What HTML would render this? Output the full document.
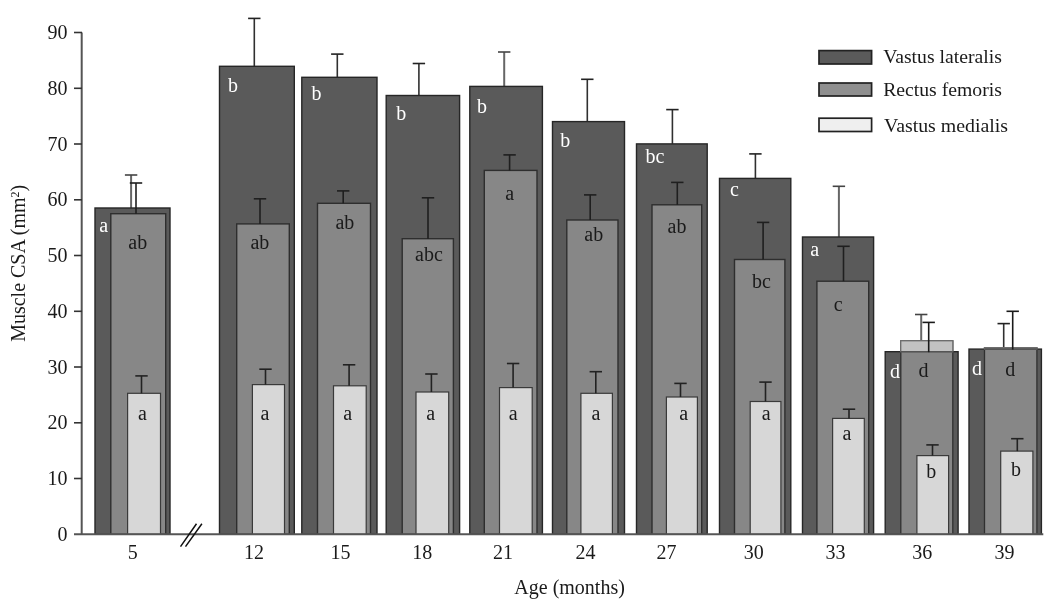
<!DOCTYPE html>
<html lang="en"><head><meta charset="utf-8"><title>Muscle CSA by age</title>
<style>
html,body{margin:0;padding:0;background:#fff;}
body{width:1050px;height:605px;overflow:hidden;}
svg{display:block;}
text{font-family:"Liberation Serif",serif;font-size:20px;fill:#1a1a1a;}
.w{fill:#fff;}
.m{text-anchor:middle;}
.e{text-anchor:end;}
</style></head><body>
<svg width="1050" height="605" viewBox="0 0 1050 605">
<rect width="1050" height="605" fill="#fff"/>

<g><!-- age 5 -->
<path d="M131.1 175.0V208.0" stroke="#666" stroke-width="2.0" fill="none"/><path d="M124.9 175.0H137.3" stroke="#444" stroke-width="1.6" fill="none"/>
<rect x="95.0" y="208.0" width="75.0" height="326.3" fill="#5a5a5a" stroke="#262626" stroke-width="1.4" />
<rect x="110.8" y="213.7" width="54.9" height="320.6" fill="#878787" stroke="#2e2e2e" stroke-width="1.4" />
<path d="M136.0 183.0V213.7" stroke="#1f1f1f" stroke-width="1.6" fill="none"/><path d="M129.8 183.0H142.2" stroke="#1f1f1f" stroke-width="1.6" fill="none"/>
<rect x="127.6" y="393.3" width="32.9" height="141.0" fill="#d7d7d7" stroke="#3a3a3a" stroke-width="1.2" />
<path d="M141.5 375.9V393.3" stroke="#222" stroke-width="1.6" fill="none"/><path d="M135.3 375.9H147.7" stroke="#222" stroke-width="1.6" fill="none"/>
<text class="w m" x="103.7" y="232.1">a</text>
<text class="m" x="137.7" y="248.7">ab</text>
<text class="m" x="142.5" y="419.7">a</text>
</g>
<g><!-- age 12 -->
<path d="M254.3 18.4V66.3" stroke="#303030" stroke-width="1.6" fill="none"/><path d="M248.1 18.4H260.5" stroke="#222" stroke-width="1.6" fill="none"/>
<rect x="219.5" y="66.3" width="74.8" height="468.0" fill="#5a5a5a" stroke="#262626" stroke-width="1.4" />
<rect x="236.7" y="223.9" width="52.6" height="310.4" fill="#878787" stroke="#2e2e2e" stroke-width="1.4" />
<path d="M260.0 198.8V223.9" stroke="#1f1f1f" stroke-width="1.6" fill="none"/><path d="M253.8 198.8H266.2" stroke="#1f1f1f" stroke-width="1.6" fill="none"/>
<rect x="252.4" y="384.6" width="32.1" height="149.7" fill="#d7d7d7" stroke="#3a3a3a" stroke-width="1.2" />
<path d="M265.5 369.2V384.6" stroke="#222" stroke-width="1.6" fill="none"/><path d="M259.3 369.2H271.7" stroke="#222" stroke-width="1.6" fill="none"/>
<text class="w m" x="233" y="91.6">b</text>
<text class="m" x="259.9" y="249.0">ab</text>
<text class="m" x="265" y="419.7">a</text>
</g>
<g><!-- age 15 -->
<path d="M337.3 54.1V77.3" stroke="#303030" stroke-width="1.6" fill="none"/><path d="M331.1 54.1H343.5" stroke="#222" stroke-width="1.6" fill="none"/>
<rect x="301.8" y="77.3" width="75.2" height="457.0" fill="#5a5a5a" stroke="#262626" stroke-width="1.4" />
<rect x="317.5" y="203.3" width="53.0" height="331.0" fill="#878787" stroke="#2e2e2e" stroke-width="1.4" />
<path d="M343.2 190.9V203.3" stroke="#1f1f1f" stroke-width="1.6" fill="none"/><path d="M337.0 190.9H349.4" stroke="#1f1f1f" stroke-width="1.6" fill="none"/>
<rect x="333.5" y="385.8" width="32.7" height="148.5" fill="#d7d7d7" stroke="#3a3a3a" stroke-width="1.2" />
<path d="M349.1 364.8V385.8" stroke="#222" stroke-width="1.6" fill="none"/><path d="M342.9 364.8H355.3" stroke="#222" stroke-width="1.6" fill="none"/>
<text class="w m" x="316.5" y="99.5">b</text>
<text class="m" x="344.9" y="228.5">ab</text>
<text class="m" x="347.8" y="419.7">a</text>
</g>
<g><!-- age 18 -->
<path d="M418.9 63.5V95.5" stroke="#303030" stroke-width="1.6" fill="none"/><path d="M412.7 63.5H425.1" stroke="#222" stroke-width="1.6" fill="none"/>
<rect x="386.2" y="95.5" width="73.4" height="438.8" fill="#5a5a5a" stroke="#262626" stroke-width="1.4" />
<rect x="402.2" y="238.7" width="51.2" height="295.6" fill="#878787" stroke="#2e2e2e" stroke-width="1.4" />
<path d="M428.0 197.8V238.7" stroke="#1f1f1f" stroke-width="1.6" fill="none"/><path d="M421.8 197.8H434.2" stroke="#1f1f1f" stroke-width="1.6" fill="none"/>
<rect x="416.0" y="392.0" width="32.7" height="142.3" fill="#d7d7d7" stroke="#3a3a3a" stroke-width="1.2" />
<path d="M431.4 374.0V392.0" stroke="#222" stroke-width="1.6" fill="none"/><path d="M425.2 374.0H437.6" stroke="#222" stroke-width="1.6" fill="none"/>
<text class="w m" x="401.2" y="119.9">b</text>
<text class="m" x="429" y="261.4">abc</text>
<text class="m" x="430.6" y="419.7">a</text>
</g>
<g><!-- age 21 -->
<path d="M504.2 52.0V86.4" stroke="#666" stroke-width="2.0" fill="none"/><path d="M498.0 52.0H510.4" stroke="#444" stroke-width="1.6" fill="none"/>
<rect x="469.8" y="86.4" width="72.6" height="447.9" fill="#5a5a5a" stroke="#262626" stroke-width="1.4" />
<rect x="484.3" y="170.4" width="52.7" height="363.9" fill="#878787" stroke="#2e2e2e" stroke-width="1.4" />
<path d="M509.6 154.9V170.4" stroke="#1f1f1f" stroke-width="1.6" fill="none"/><path d="M503.4 154.9H515.8" stroke="#1f1f1f" stroke-width="1.6" fill="none"/>
<rect x="499.5" y="387.6" width="32.7" height="146.7" fill="#d7d7d7" stroke="#3a3a3a" stroke-width="1.2" />
<path d="M513.1 363.5V387.6" stroke="#222" stroke-width="1.6" fill="none"/><path d="M506.9 363.5H519.3" stroke="#222" stroke-width="1.6" fill="none"/>
<text class="w m" x="482.1" y="112.6">b</text>
<text class="m" x="509.6" y="199.8">a</text>
<text class="m" x="513.1" y="419.7">a</text>
</g>
<g><!-- age 24 -->
<path d="M587.3 79.3V121.6" stroke="#303030" stroke-width="1.6" fill="none"/><path d="M581.1 79.3H593.5" stroke="#222" stroke-width="1.6" fill="none"/>
<rect x="552.5" y="121.6" width="72.0" height="412.7" fill="#5a5a5a" stroke="#262626" stroke-width="1.4" />
<rect x="566.8" y="220.0" width="51.2" height="314.3" fill="#878787" stroke="#2e2e2e" stroke-width="1.4" />
<path d="M590.2 194.9V220.0" stroke="#1f1f1f" stroke-width="1.6" fill="none"/><path d="M584.0 194.9H596.4" stroke="#1f1f1f" stroke-width="1.6" fill="none"/>
<rect x="580.9" y="393.3" width="31.5" height="141.0" fill="#d7d7d7" stroke="#3a3a3a" stroke-width="1.2" />
<path d="M595.8 371.7V393.3" stroke="#222" stroke-width="1.6" fill="none"/><path d="M589.6 371.7H602.0" stroke="#222" stroke-width="1.6" fill="none"/>
<text class="w m" x="565.2" y="146.8">b</text>
<text class="m" x="593.7" y="240.7">ab</text>
<text class="m" x="596" y="419.7">a</text>
</g>
<g><!-- age 27 -->
<path d="M672.4 109.6V143.9" stroke="#303030" stroke-width="1.6" fill="none"/><path d="M666.2 109.6H678.6" stroke="#222" stroke-width="1.6" fill="none"/>
<rect x="636.5" y="143.9" width="70.7" height="390.4" fill="#5a5a5a" stroke="#262626" stroke-width="1.4" />
<rect x="652.0" y="204.8" width="49.7" height="329.5" fill="#878787" stroke="#2e2e2e" stroke-width="1.4" />
<path d="M677.3 182.4V204.8" stroke="#1f1f1f" stroke-width="1.6" fill="none"/><path d="M671.1 182.4H683.5" stroke="#1f1f1f" stroke-width="1.6" fill="none"/>
<rect x="666.4" y="397.0" width="31.0" height="137.3" fill="#d7d7d7" stroke="#3a3a3a" stroke-width="1.2" />
<path d="M680.5 383.4V397.0" stroke="#222" stroke-width="1.6" fill="none"/><path d="M674.3 383.4H686.7" stroke="#222" stroke-width="1.6" fill="none"/>
<text class="w m" x="655" y="163.0">bc</text>
<text class="m" x="677" y="232.8">ab</text>
<text class="m" x="683.7" y="419.7">a</text>
</g>
<g><!-- age 30 -->
<path d="M755.4 153.9V178.4" stroke="#303030" stroke-width="1.6" fill="none"/><path d="M749.2 153.9H761.6" stroke="#222" stroke-width="1.6" fill="none"/>
<rect x="719.5" y="178.4" width="71.3" height="355.9" fill="#5a5a5a" stroke="#262626" stroke-width="1.4" />
<rect x="734.5" y="259.5" width="50.4" height="274.8" fill="#878787" stroke="#2e2e2e" stroke-width="1.4" />
<path d="M763.1 222.4V259.5" stroke="#1f1f1f" stroke-width="1.6" fill="none"/><path d="M756.9 222.4H769.3" stroke="#1f1f1f" stroke-width="1.6" fill="none"/>
<rect x="750.2" y="401.5" width="30.7" height="132.8" fill="#d7d7d7" stroke="#3a3a3a" stroke-width="1.2" />
<path d="M765.5 382.1V401.5" stroke="#222" stroke-width="1.6" fill="none"/><path d="M759.3 382.1H771.7" stroke="#222" stroke-width="1.6" fill="none"/>
<text class="w m" x="734.5" y="195.6">c</text>
<text class="m" x="761.5" y="288.4">bc</text>
<text class="m" x="766.3" y="419.7">a</text>
</g>
<g><!-- age 33 -->
<path d="M838.9 186.3V237.0" stroke="#666" stroke-width="2.0" fill="none"/><path d="M832.7 186.3H845.1" stroke="#444" stroke-width="1.6" fill="none"/>
<rect x="802.5" y="237.0" width="71.1" height="297.3" fill="#5a5a5a" stroke="#262626" stroke-width="1.4" />
<rect x="816.9" y="281.2" width="51.8" height="253.1" fill="#878787" stroke="#2e2e2e" stroke-width="1.4" />
<path d="M843.5 246.3V281.2" stroke="#1f1f1f" stroke-width="1.6" fill="none"/><path d="M837.3 246.3H849.7" stroke="#1f1f1f" stroke-width="1.6" fill="none"/>
<rect x="832.6" y="418.4" width="31.7" height="115.9" fill="#d7d7d7" stroke="#3a3a3a" stroke-width="1.2" />
<path d="M849.0 409.2V418.4" stroke="#222" stroke-width="1.6" fill="none"/><path d="M842.8 409.2H855.2" stroke="#222" stroke-width="1.6" fill="none"/>
<text class="w m" x="814.8" y="256.4">a</text>
<text class="m" x="838.3" y="311.4">c</text>
<text class="m" x="847" y="439.9">a</text>
</g>
<g><!-- age 36 -->
<path d="M921.2 314.5V351.7" stroke="#666" stroke-width="2.0" fill="none"/><path d="M915.0 314.5H927.4" stroke="#444" stroke-width="1.6" fill="none"/>
<rect x="885.2" y="351.7" width="72.9" height="182.6" fill="#5a5a5a" stroke="#262626" stroke-width="1.4" />
<rect x="900.8" y="340.8" width="52.0" height="193.5" fill="#878787" stroke="#303030" stroke-width="1.3" />
<rect x="900.8" y="340.8" width="52.0" height="10.9" fill="#c2c2c2" stroke="#707070" stroke-width="1.2"/>
<path d="M900.8 351.7H952.8" stroke="#555" stroke-width="1.6"/>
<path d="M928.7 322.4V352.2" stroke="#1a1a1a" stroke-width="1.6" fill="none"/><path d="M922.5 322.4H934.9" stroke="#1a1a1a" stroke-width="1.6" fill="none"/>
<rect x="916.9" y="455.6" width="31.7" height="78.7" fill="#d7d7d7" stroke="#3a3a3a" stroke-width="1.2" />
<path d="M932.5 444.9V455.6" stroke="#222" stroke-width="1.6" fill="none"/><path d="M926.3 444.9H938.7" stroke="#222" stroke-width="1.6" fill="none"/>
<text class="w m" x="895.1" y="378.2">d</text>
<text class="m" x="923.6" y="377.4">d</text>
<text class="m" x="931.3" y="478.3">b</text>
</g>
<g><!-- age 39 -->
<path d="M1003.7 323.6V349.1" stroke="#303030" stroke-width="1.6" fill="none"/><path d="M997.5 323.6H1009.9" stroke="#222" stroke-width="1.6" fill="none"/>
<rect x="969.0" y="349.1" width="72.4" height="185.2" fill="#5a5a5a" stroke="#262626" stroke-width="1.4" />
<rect x="984.5" y="347.8" width="52.4" height="186.5" fill="#878787" stroke="#303030" stroke-width="1.3" />
<rect x="984.5" y="347.8" width="52.4" height="1.3" fill="#c2c2c2" stroke="#707070" stroke-width="1.2"/>
<path d="M984.5 349.1H1036.9" stroke="#555" stroke-width="1.6"/>
<path d="M1012.7 311.3V349.6" stroke="#1a1a1a" stroke-width="1.6" fill="none"/><path d="M1006.5 311.3H1018.9" stroke="#1a1a1a" stroke-width="1.6" fill="none"/>
<rect x="1000.7" y="451.1" width="32.2" height="83.2" fill="#d7d7d7" stroke="#3a3a3a" stroke-width="1.2" />
<path d="M1017.3 438.7V451.1" stroke="#222" stroke-width="1.6" fill="none"/><path d="M1011.1 438.7H1023.5" stroke="#222" stroke-width="1.6" fill="none"/>
<text class="w m" x="976.9" y="374.9">d</text>
<text class="m" x="1010.2" y="375.9">d</text>
<text class="m" x="1016" y="475.8">b</text>
</g>
<path d="M81.7 32.5V534.3" stroke="#555" stroke-width="2" fill="none"/>
<path d="M74 534.3H1043.3" stroke="#555" stroke-width="2" fill="none"/>
<text class="e" x="67.4" y="540.8">0</text>
<path d="M74 478.5H82" stroke="#333" stroke-width="1.6"/>
<text class="e" x="67.4" y="485.0">10</text>
<path d="M74 422.8H82" stroke="#333" stroke-width="1.6"/>
<text class="e" x="67.4" y="429.3">20</text>
<path d="M74 367.0H82" stroke="#333" stroke-width="1.6"/>
<text class="e" x="67.4" y="373.5">30</text>
<path d="M74 311.3H82" stroke="#333" stroke-width="1.6"/>
<text class="e" x="67.4" y="317.8">40</text>
<path d="M74 255.5H82" stroke="#333" stroke-width="1.6"/>
<text class="e" x="67.4" y="262.0">50</text>
<path d="M74 199.8H82" stroke="#333" stroke-width="1.6"/>
<text class="e" x="67.4" y="206.3">60</text>
<path d="M74 144.0H82" stroke="#333" stroke-width="1.6"/>
<text class="e" x="67.4" y="150.5">70</text>
<path d="M74 88.3H82" stroke="#333" stroke-width="1.6"/>
<text class="e" x="67.4" y="94.8">80</text>
<path d="M74 32.5H82" stroke="#333" stroke-width="1.6"/>
<text class="e" x="67.4" y="39.0">90</text>
<text class="m" x="132.7" y="558.5">5</text>
<text class="m" x="254" y="558.5">12</text>
<text class="m" x="340.5" y="558.5">15</text>
<text class="m" x="422.3" y="558.5">18</text>
<text class="m" x="503" y="558.5">21</text>
<text class="m" x="585.4" y="558.5">24</text>
<text class="m" x="666.5" y="558.5">27</text>
<text class="m" x="753.8" y="558.5">30</text>
<text class="m" x="835.5" y="558.5">33</text>
<text class="m" x="922.2" y="558.5">36</text>
<text class="m" x="1004.5" y="558.5">39</text>
<path d="M180.5 546.6L196.5 523.8M185.5 546.6L201.9 523.8" stroke="#111" stroke-width="1.5" fill="none"/>
<text class="m" x="569.6" y="594.0">Age (months)</text>
<text class="m" transform="translate(25.3 263.3) rotate(-90)">Muscle CSA (mm<tspan dy="-6" font-size="12">2</tspan><tspan dy="6">)</tspan></text>
<rect x="819" y="50.6" width="52.6" height="13.4" fill="#5a5a5a" stroke="#222" stroke-width="1.7"/>
<text x="883.2" y="62.9" style="font-size:19.7px">Vastus lateralis</text>
<rect x="819" y="83.0" width="52.6" height="13.0" fill="#8f8f8f" stroke="#222" stroke-width="1.7"/>
<text x="883.2" y="96.2" style="font-size:19.7px">Rectus femoris</text>
<rect x="819" y="118.2" width="52.6" height="13.3" fill="#efefef" stroke="#222" stroke-width="1.7"/>
<text x="884.0" y="132.2" style="font-size:19.85px">Vastus medialis</text>
</svg>
</body></html>
